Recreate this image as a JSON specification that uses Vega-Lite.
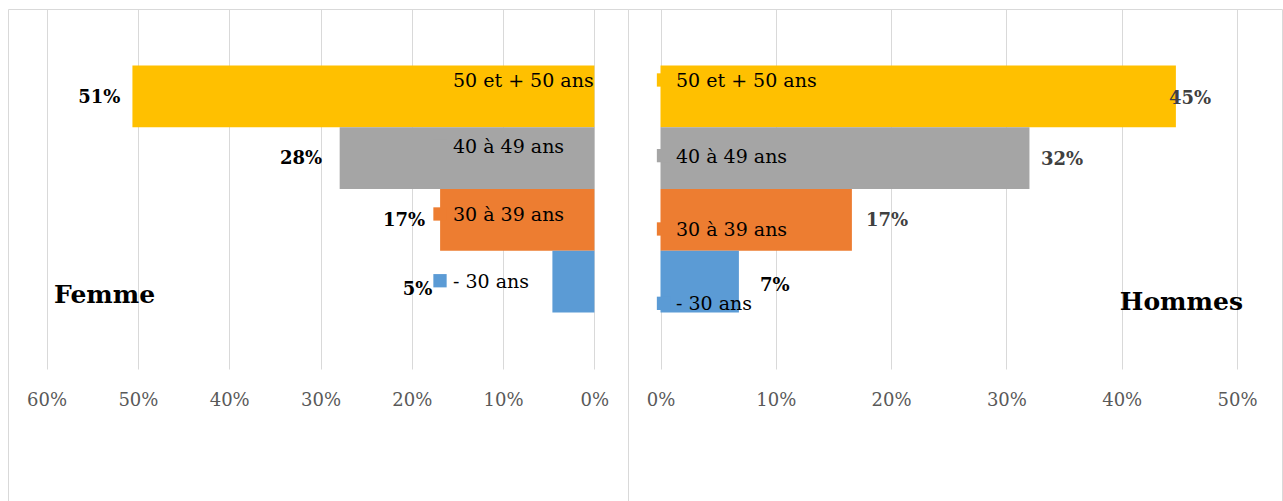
{
  "$schema": "https://vega.github.io/schema/vega-lite/v6.json",
  "padding": {"left": 7, "top": 8, "right": 0, "bottom": 0},
  "background": "white",
  "datasets": {
    "pyramide": [
      {"sexe": "Femme", "age": "50 et + 50 ans", "part": 0.506},
      {"sexe": "Femme", "age": "40 à 49 ans", "part": 0.279},
      {"sexe": "Femme", "age": "30 à 39 ans", "part": 0.169},
      {"sexe": "Femme", "age": "- 30 ans", "part": 0.046},
      {"sexe": "Hommes", "age": "50 et + 50 ans", "part": 0.447},
      {"sexe": "Hommes", "age": "40 à 49 ans", "part": 0.32},
      {"sexe": "Hommes", "age": "30 à 39 ans", "part": 0.166},
      {"sexe": "Hommes", "age": "- 30 ans", "part": 0.068}
    ]
  },
  "spacing": 0,
  "bounds": "flush",
  "hconcat": [
    {
      "width": 620,
      "height": 492,
      "data": {"name": "pyramide"},
      "transform": [{"filter": "datum.sexe === 'Femme'"}],
      "encoding": {
        "y": {
          "field": "age", "type": "nominal",
          "sort": ["50 et + 50 ans", "40 à 49 ans", "30 à 39 ans", "- 30 ans"],
          "scale": {"range": [0, 360], "paddingInner": 0, "paddingOuter": 0.915},
          "axis": null
        },
        "x": {
          "field": "part", "type": "quantitative",
          "scale": {"domain": [0, 0.6], "range": [586.4, 38.6], "nice": false, "zero": true},
          "axis": {
            "orient": "top", "offset": -391, "values": [0, 0.1, 0.2, 0.3, 0.4, 0.5, 0.6],
            "format": ".0%", "title": null, "domain": false, "ticks": false, "tickSize": 0,
            "labelPadding": 0, "labelBaseline": "middle", "labelFont": "DejaVu Serif",
            "labelFontSize": 18, "labelColor": "#595959", "labelFlush": false,
            "labelOverlap": false, "labelBound": false,
            "grid": true, "gridColor": "#D9D9D9", "gridWidth": 1
          }
        }
      },
      "layer": [
        {
          "mark": {"type": "bar"},
          "encoding": {
            "color": {
              "field": "age", "type": "nominal",
              "scale": {
                "domain": ["50 et + 50 ans", "40 à 49 ans", "30 à 39 ans", "- 30 ans"],
                "range": ["#FFC000", "#A5A5A5", "#ED7D31", "#5B9BD5"]
              },
              "legend": null
            }
          }
        },
        {
          "transform": [{"filter": "datum.age === '50 et + 50 ans'"}],
          "layer": [
            {"mark": {"type": "square", "size": 177, "opacity": 1, "xOffset": -154.4, "yOffset": -16.4},
             "encoding": {"x": {"datum": 0}, "color": {"field": "age", "type": "nominal"}}},
            {"mark": {"type": "text", "align": "left", "baseline": "alphabetic", "dx": -141.4, "dy": -9.4, "font": "DejaVu Serif", "fontSize": 19, "color": "#000000"},
             "encoding": {"x": {"datum": 0}, "text": {"field": "age"}}},
            {"mark": {"type": "text", "align": "right", "baseline": "middle", "dx": -12, "dy": 1.6, "font": "DejaVu Serif", "fontSize": 18, "fontWeight": "bold", "color": "#000000"},
             "encoding": {"text": {"field": "part", "type": "quantitative", "format": ".0%"}}}
          ]
        },
        {
          "transform": [{"filter": "datum.age === '40 à 49 ans'"}],
          "layer": [
            {"mark": {"type": "square", "size": 177, "opacity": 1, "xOffset": -154.4, "yOffset": -12.4},
             "encoding": {"x": {"datum": 0}, "color": {"field": "age", "type": "nominal"}}},
            {"mark": {"type": "text", "align": "left", "baseline": "alphabetic", "dx": -141.4, "dy": -5.4, "font": "DejaVu Serif", "fontSize": 19, "color": "#000000"},
             "encoding": {"x": {"datum": 0}, "text": {"field": "age"}}},
            {"mark": {"type": "text", "align": "right", "baseline": "middle", "dx": -17.5, "dy": 0.9, "font": "DejaVu Serif", "fontSize": 18, "fontWeight": "bold", "color": "#000000"},
             "encoding": {"text": {"field": "part", "type": "quantitative", "format": ".0%"}}}
          ]
        },
        {
          "transform": [{"filter": "datum.age === '30 à 39 ans'"}],
          "layer": [
            {"mark": {"type": "square", "size": 177, "opacity": 1, "xOffset": -154.4, "yOffset": -5.9},
             "encoding": {"x": {"datum": 0}, "color": {"field": "age", "type": "nominal"}}},
            {"mark": {"type": "text", "align": "left", "baseline": "alphabetic", "dx": -141.4, "dy": 1.1, "font": "DejaVu Serif", "fontSize": 19, "color": "#000000"},
             "encoding": {"x": {"datum": 0}, "text": {"field": "age"}}},
            {"mark": {"type": "text", "align": "right", "baseline": "middle", "dx": -15, "dy": 1.1, "font": "DejaVu Serif", "fontSize": 18, "fontWeight": "bold", "color": "#000000"},
             "encoding": {"text": {"field": "part", "type": "quantitative", "format": ".0%"}}}
          ]
        },
        {
          "transform": [{"filter": "datum.age === '- 30 ans'"}],
          "layer": [
            {"mark": {"type": "square", "size": 177, "opacity": 1, "xOffset": -154.4, "yOffset": -0.9},
             "encoding": {"x": {"datum": 0}, "color": {"field": "age", "type": "nominal"}}},
            {"mark": {"type": "text", "align": "left", "baseline": "alphabetic", "dx": -141.4, "dy": 6.1, "font": "DejaVu Serif", "fontSize": 19, "color": "#000000"},
             "encoding": {"x": {"datum": 0}, "text": {"field": "age"}}},
            {"mark": {"type": "text", "align": "right", "baseline": "middle", "dx": -120, "dy": 8.4, "font": "DejaVu Serif", "fontSize": 18, "fontWeight": "bold", "color": "#000000"},
             "encoding": {"text": {"field": "part", "type": "quantitative", "format": ".0%"}}},
            {"mark": {"type": "text", "align": "left", "baseline": "alphabetic", "dx": 7.4, "dy": 21.4, "font": "DejaVu Serif", "fontSize": 25, "fontWeight": "bold", "color": "#000000"},
             "encoding": {"x": {"datum": 0.6}, "text": {"field": "sexe"}}}
          ]
        }
      ]
    },
    {
      "width": 654,
      "height": 492,
      "data": {"name": "pyramide"},
      "transform": [{"filter": "datum.sexe === 'Hommes'"}],
      "encoding": {
        "y": {
          "field": "age", "type": "nominal",
          "sort": ["50 et + 50 ans", "40 à 49 ans", "30 à 39 ans", "- 30 ans"],
          "scale": {"range": [0, 360], "paddingInner": 0, "paddingOuter": 0.915},
          "axis": null
        },
        "x": {
          "field": "part", "type": "quantitative",
          "scale": {"domain": [0, 0.5], "range": [32.5, 609], "nice": false, "zero": true},
          "axis": {
            "orient": "top", "offset": -391, "values": [0, 0.1, 0.2, 0.3, 0.4, 0.5],
            "format": ".0%", "title": null, "domain": false, "ticks": false, "tickSize": 0,
            "labelPadding": 0, "labelBaseline": "middle", "labelFont": "DejaVu Serif",
            "labelFontSize": 18, "labelColor": "#595959", "labelFlush": false,
            "labelOverlap": false, "labelBound": false,
            "grid": true, "gridColor": "#D9D9D9", "gridWidth": 1
          }
        }
      },
      "layer": [
        {
          "mark": {"type": "bar"},
          "encoding": {
            "color": {
              "field": "age", "type": "nominal",
              "scale": {
                "domain": ["50 et + 50 ans", "40 à 49 ans", "30 à 39 ans", "- 30 ans"],
                "range": ["#FFC000", "#A5A5A5", "#ED7D31", "#5B9BD5"]
              },
              "legend": null
            }
          }
        },
        {
          "transform": [{"filter": "datum.age === '50 et + 50 ans'"}],
          "layer": [
            {"mark": {"type": "square", "size": 177, "opacity": 1, "xOffset": 3, "yOffset": -16.4},
             "encoding": {"x": {"datum": 0}, "color": {"field": "age", "type": "nominal"}}},
            {"mark": {"type": "text", "align": "left", "baseline": "alphabetic", "dx": 15.5, "dy": -9.4, "font": "DejaVu Serif", "fontSize": 19, "color": "#000000"},
             "encoding": {"x": {"datum": 0}, "text": {"field": "age"}}},
            {"mark": {"type": "text", "align": "left", "baseline": "middle", "dx": -7, "dy": 2.6, "font": "DejaVu Serif", "fontSize": 18, "fontWeight": "bold", "color": "#404040"},
             "encoding": {"text": {"field": "part", "type": "quantitative", "format": ".0%"}}}
          ]
        },
        {
          "transform": [{"filter": "datum.age === '40 à 49 ans'"}],
          "layer": [
            {"mark": {"type": "square", "size": 177, "opacity": 1, "xOffset": 3, "yOffset": -2.5},
             "encoding": {"x": {"datum": 0}, "color": {"field": "age", "type": "nominal"}}},
            {"mark": {"type": "text", "align": "left", "baseline": "alphabetic", "dx": 15.5, "dy": 4.5, "font": "DejaVu Serif", "fontSize": 19, "color": "#000000"},
             "encoding": {"x": {"datum": 0}, "text": {"field": "age"}}},
            {"mark": {"type": "text", "align": "left", "baseline": "middle", "dx": 11.5, "dy": 1.9, "font": "DejaVu Serif", "fontSize": 18, "fontWeight": "bold", "color": "#404040"},
             "encoding": {"text": {"field": "part", "type": "quantitative", "format": ".0%"}}}
          ]
        },
        {
          "transform": [{"filter": "datum.age === '30 à 39 ans'"}],
          "layer": [
            {"mark": {"type": "square", "size": 177, "opacity": 1, "xOffset": 3, "yOffset": 9.1},
             "encoding": {"x": {"datum": 0}, "color": {"field": "age", "type": "nominal"}}},
            {"mark": {"type": "text", "align": "left", "baseline": "alphabetic", "dx": 15.5, "dy": 16.1, "font": "DejaVu Serif", "fontSize": 19, "color": "#000000"},
             "encoding": {"x": {"datum": 0}, "text": {"field": "age"}}},
            {"mark": {"type": "text", "align": "left", "baseline": "middle", "dx": 14, "dy": 1.1, "font": "DejaVu Serif", "fontSize": 18, "fontWeight": "bold", "color": "#404040"},
             "encoding": {"text": {"field": "part", "type": "quantitative", "format": ".0%"}}}
          ]
        },
        {
          "transform": [{"filter": "datum.age === '- 30 ans'"}],
          "layer": [
            {"mark": {"type": "square", "size": 177, "opacity": 1, "xOffset": 3, "yOffset": 21.7},
             "encoding": {"x": {"datum": 0}, "color": {"field": "age", "type": "nominal"}}},
            {"mark": {"type": "text", "align": "left", "baseline": "alphabetic", "dx": 15.5, "dy": 28.7, "font": "DejaVu Serif", "fontSize": 19, "color": "#000000"},
             "encoding": {"x": {"datum": 0}, "text": {"field": "age"}}},
            {"mark": {"type": "text", "align": "left", "baseline": "middle", "dx": 21, "dy": 4.4, "font": "DejaVu Serif", "fontSize": 18, "fontWeight": "bold", "color": "#000000"},
             "encoding": {"text": {"field": "part", "type": "quantitative", "format": ".0%"}}},
            {"mark": {"type": "text", "align": "right", "baseline": "alphabetic", "dx": 6, "dy": 28.4, "font": "DejaVu Serif", "fontSize": 25, "fontWeight": "bold", "color": "#000000"},
             "encoding": {"x": {"datum": 0.5}, "text": {"field": "sexe"}}}
          ]
        }
      ]
    }
  ],
  "config": {
    "view": {"stroke": "#D9D9D9", "strokeWidth": 1},
    "font": "DejaVu Serif"
  }
}
